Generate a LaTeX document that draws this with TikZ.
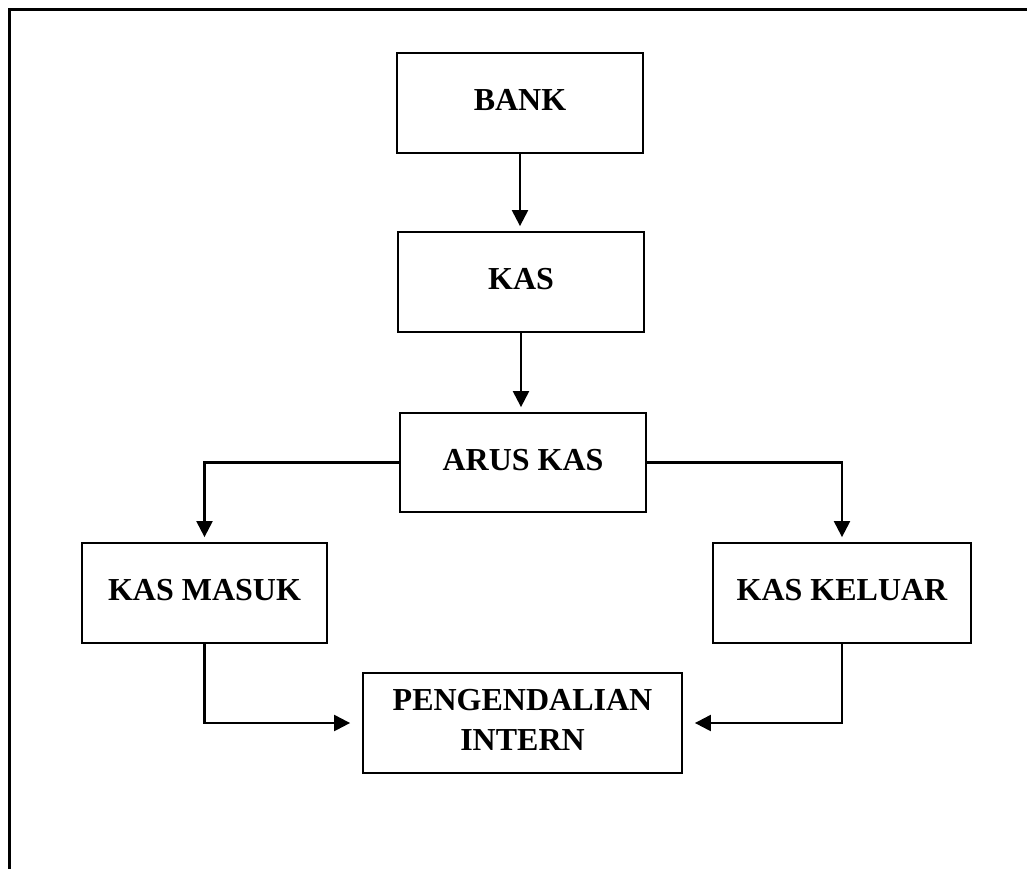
\documentclass[tikz,border=0pt]{standalone}
\usepackage{fontspec}
\setmainfont{Liberation Serif}
\usetikzlibrary{arrows.meta}
\begin{document}
\begin{tikzpicture}[x=1pt,y=-1pt,
  box/.style={draw,line width=1.8pt,rectangle,minimum height=100pt,inner sep=0pt,
    font=\bfseries\fontsize{32}{40}\selectfont,text depth=6pt,align=center},
  arr/.style={line width=2.2pt,-{Triangle[length=16pt,width=16pt]}},
  frame/.style={line width=3pt}]
\useasboundingbox (0,0) rectangle (1027,868);
\coordinate (f1) at (9.5,870);
\coordinate (f2) at (9.5,9.5);
\coordinate (f3) at (1030,9.5);
\draw[frame] (f1) -- (f2) -- (f3);
\node[box,minimum width=246pt] (bank) at (520,103) {BANK};
\node[box,minimum width=246pt] (kas) at (521,282) {KAS};
\node[box,minimum width=246pt,minimum height=99pt] (arus) at (523,462.5) {ARUS KAS};
\node[box,minimum width=245pt] (masuk) at (204.5,593) {KAS MASUK};
\node[box,minimum width=258pt] (keluar) at (842,593) {KAS KELUAR};
\node[box,minimum width=319pt] (peng) at (522.5,723) {PENGENDALIAN\\INTERN};
\draw[arr,shorten >=5pt] (bank.south) -- (bank.south |- kas.north);
\draw[arr,shorten >=5pt] (kas.south) -- (kas.south |- arus.north);
\draw[arr,shorten >=5pt] (arus.west) -| (masuk.north);
\draw[arr,shorten >=5pt] (arus.east) -| (keluar.north);
\draw[arr,shorten >=12pt] (masuk.south) |- (peng.west);
\draw[arr,shorten >=12pt] (keluar.south) |- (peng.east);
\end{tikzpicture}
\end{document}
